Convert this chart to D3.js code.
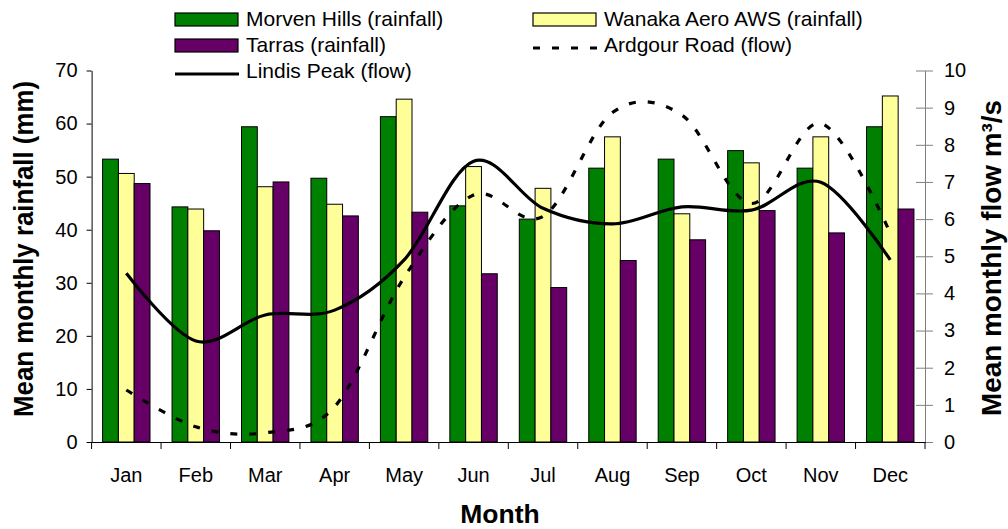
<!DOCTYPE html>
<html>
<head>
<meta charset="utf-8">
<script src="https://cdn.jsdelivr.net/npm/d3@7"></script>
<style>
  html, body { margin: 0; padding: 0; background: #fff; }
  svg { display: block; font-family: "Liberation Sans", Arial, sans-serif; }
</style>
</head>
<body>
<svg id="chart" width="1008" height="529"></svg>
<script>
// values
const months = ["Jan", "Feb", "Mar", "Apr", "May", "Jun", "Jul", "Aug", "Sep", "Oct", "Nov", "Dec"];
const morven = [53.3, 44.3, 59.4, 49.7, 61.3, 44.5, 42.0, 51.6, 53.3, 54.9, 51.6, 59.4];
const wanaka = [50.6, 43.9, 48.1, 44.8, 64.6, 51.9, 47.8, 57.5, 43.0, 52.6, 57.5, 65.2];
const tarras = [48.7, 39.8, 49.0, 42.6, 43.3, 31.7, 29.1, 34.2, 38.1, 43.6, 39.4, 43.9];
const ardgour = [1.40, 0.41, 0.25, 0.95, 4.43, 6.65, 6.07, 8.87, 8.80, 6.42, 8.58, 5.62];
const lindis = [4.54, 2.72, 3.42, 3.55, 4.90, 7.56, 6.29, 5.87, 6.33, 6.24, 6.99, 4.90];
const rainTicks = [0, 10, 20, 30, 40, 50, 60, 70];
const flowTicks = [0, 1, 2, 3, 4, 5, 6, 7, 8, 9, 10];

const barSeries = [
  { name: "Morven Hills (rainfall)", values: morven, color: "#008000" },
  { name: "Wanaka Aero AWS (rainfall)", values: wanaka, color: "#ffff99" },
  { name: "Tarras (rainfall)", values: tarras, color: "#660066" }
];

const svg = d3.select("#chart");
const plotL = 91.6, plotR = 925, plotT = 70.5, plotB = 442;

const x = d3.scaleBand().domain(months).range([plotL, plotR]);
const xs = d3.scaleBand().domain(barSeries.map(s => s.name)).range([11, 11 + 3 * 15.8]);
const y = d3.scaleLinear().domain([0, 70]).range([plotB, plotT]);
const y2 = d3.scaleLinear().domain([0, 10]).range([plotB, plotT]);

// bars
barSeries.forEach(s => {
  svg.append("g").selectAll("rect").data(s.values).join("rect")
    .attr("x", (d, i) => x(months[i]) + xs(s.name))
    .attr("y", d => y(d))
    .attr("width", xs.bandwidth())
    .attr("height", d => y(0) - y(d))
    .attr("fill", s.color)
    .attr("stroke", "#000")
    .attr("stroke-width", 1);
});

// flow lines (smoothed like the spreadsheet)
const line = d3.line()
  .x((d, i) => x(months[i]) + x.bandwidth() / 2)
  .y(d => y2(d))
  .curve(d3.curveCatmullRom.alpha(0));

svg.append("path").datum(ardgour).attr("d", line)
  .attr("fill", "none").attr("stroke", "#000").attr("stroke-width", 3.2)
  .attr("stroke-dasharray", "7,12");
svg.append("path").datum(lindis).attr("d", line)
  .attr("fill", "none").attr("stroke", "#000").attr("stroke-width", 3.2);

// left axis
const gl = svg.append("g").attr("transform", `translate(${plotL},0)`)
  .call(d3.axisLeft(y).tickValues(rainTicks).tickSizeInner(5).tickSizeOuter(0).tickPadding(9));
gl.select(".domain").attr("stroke", "#000");
gl.selectAll("text").attr("font-size", 20).attr("fill", "#000").attr("font-family", null);

// right axis, ticks cross the line
const gr = svg.append("g").attr("transform", `translate(${plotR},0)`)
  .call(d3.axisRight(y2).tickValues(flowTicks).tickSizeInner(8).tickSizeOuter(0).tickPadding(11));
gr.select(".domain").attr("stroke", "#808080");
gr.selectAll(".tick line").attr("x1", -9).attr("stroke", "#808080");
gr.selectAll("text").attr("font-size", 20).attr("fill", "#000").attr("font-family", null);

// bottom axis, ticks between months
const gb = svg.append("g").attr("transform", `translate(0,${plotB})`)
  .call(d3.axisBottom(x).tickSize(0).tickPadding(26));
gb.select(".domain").attr("stroke", "#000");
gb.selectAll("text").attr("font-size", 20).attr("fill", "#000").attr("font-family", null);
gb.selectAll("line.sep").data(d3.range(months.length + 1)).join("line")
  .attr("class", "sep")
  .attr("x1", i => plotL + i * x.step()).attr("x2", i => plotL + i * x.step())
  .attr("y1", 0).attr("y2", 7).attr("stroke", "#000");

// axis titles
svg.append("text").attr("x", 500).attr("y", 523).attr("text-anchor", "middle")
  .attr("font-size", 26.5).attr("font-weight", "bold").text("Month");
svg.append("text").attr("transform", "translate(33,249) rotate(-90)").attr("text-anchor", "middle")
  .attr("font-size", 27).attr("font-weight", "bold")
  .attr("textLength", 336).attr("lengthAdjust", "spacingAndGlyphs")
  .text("Mean monthly rainfall (mm)");
svg.append("text").attr("transform", "translate(1001,258) rotate(-90)").attr("text-anchor", "middle")
  .attr("font-size", 27).attr("font-weight", "bold")
  .attr("textLength", 316).attr("lengthAdjust", "spacingAndGlyphs")
  .text("Mean monthly flow m³/s");

// legend
const legend = [
  { name: barSeries[0].name, kind: "box", color: barSeries[0].color, x: 175, row: 0 },
  { name: barSeries[1].name, kind: "box", color: barSeries[1].color, x: 533, row: 0 },
  { name: barSeries[2].name, kind: "box", color: barSeries[2].color, x: 175, row: 1 },
  { name: "Ardgour Road (flow)", kind: "dash", x: 533, row: 1 },
  { name: "Lindis Peak (flow)", kind: "line", x: 175, row: 2 }
];
const lg = svg.append("g");
legend.forEach(l => {
  const base = 26 + l.row * 26;
  if (l.kind === "box") {
    lg.append("rect").attr("x", l.x).attr("y", base - 13).attr("width", 63).attr("height", 13)
      .attr("fill", l.color).attr("stroke", "#000").attr("stroke-width", 1.2);
  } else {
    lg.append("line").attr("x1", l.x).attr("x2", l.x + 64).attr("y1", base - 4).attr("y2", base - 4)
      .attr("stroke", "#000").attr("stroke-width", 3.2)
      .attr("stroke-dasharray", l.kind === "dash" ? "7,12" : null);
  }
  lg.append("text").attr("x", l.x + 71).attr("y", base).attr("font-size", 21).text(l.name);
});
</script>
</body>
</html>
